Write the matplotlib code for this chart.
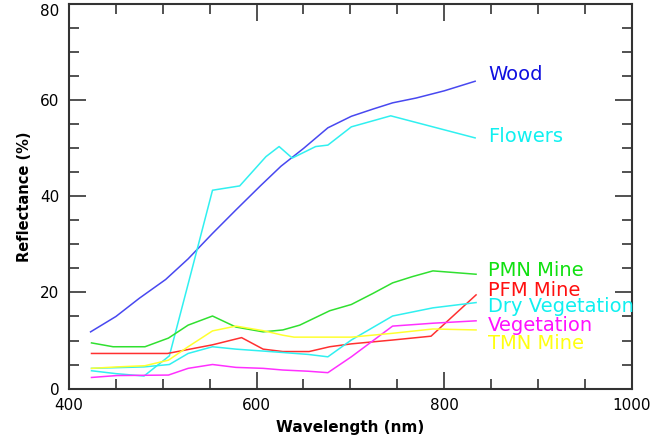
import matplotlib
matplotlib.use("Agg")
import matplotlib.pyplot as plt
from matplotlib.ticker import MultipleLocator

# ---- data ----
wood_x = [423, 450, 475, 503, 527, 553, 578, 604, 626, 650, 676, 701, 724, 745, 770, 800, 833]
wood_y = [11.8, 15.0, 18.8, 22.7, 27.0, 32.3, 37.2, 42.2, 46.3, 50.0, 54.3, 56.7, 58.2, 59.5, 60.5, 62.0, 64.0]

flowers_x = [424, 450, 480, 507, 530, 553, 582, 610, 624, 638, 663, 676, 701, 743, 833]
flowers_y = [3.7, 3.1, 2.6, 6.8, 24.0, 41.3, 42.2, 48.3, 50.4, 48.0, 50.4, 50.7, 54.5, 56.8, 52.2]

pmn_x = [424, 447, 481, 506, 527, 553, 578, 607, 628, 646, 678, 701, 724, 745, 766, 788, 834]
pmn_y = [9.5, 8.7, 8.7, 10.5, 13.2, 15.1, 12.8, 11.8, 12.2, 13.2, 16.2, 17.5, 19.8, 22.0, 23.3, 24.5, 23.8]

pfm_x = [424, 505, 553, 584, 607, 628, 656, 678, 701, 745, 786, 834]
pfm_y = [7.3, 7.3, 9.1, 10.6, 8.2, 7.7, 7.7, 8.7, 9.3, 10.1, 10.9, 19.5]

dry_x = [424, 480, 507, 527, 553, 578, 607, 628, 655, 676, 701, 745, 788, 834]
dry_y = [4.2, 4.5, 5.0, 7.3, 8.7, 8.2, 7.8, 7.5, 7.1, 6.6, 10.1, 15.1, 16.8, 17.9]

veg_x = [424, 451, 506, 527, 553, 578, 607, 628, 655, 676, 701, 745, 788, 834]
veg_y = [2.3, 2.7, 2.8, 4.2, 5.0, 4.4, 4.2, 3.85, 3.6, 3.3, 6.6, 13.0, 13.6, 14.1]

tmn_x = [424, 451, 481, 506, 527, 553, 578, 607, 628, 640, 676, 701, 745, 788, 834]
tmn_y = [4.2, 4.5, 4.75, 5.9, 8.7, 12.0, 13.0, 12.05, 11.1, 10.7, 10.7, 10.7, 11.5, 12.4, 12.2]

series_names = ["Wood", "Flowers", "PMN Mine", "PFM Mine", "Dry Vegetation", "Vegetation", "TMN Mine"]
label_y = [65.5, 52.4, 24.5, 20.5, 17.0, 13.2, 9.3]

x_label = "Wavelength (nm)"
y_label = "Reflectance (%)"

# ---- styles ----
line_colors = ["#4848f0", "#30f0f0", "#30e030", "#ff3030", "#30f0f0", "#ff30ff", "#ffff30"]
text_colors = ["#1010e0", "#10f0f0", "#10e010", "#ff1010", "#10f0f0", "#ff10ff", "#ffff10"]

fig = plt.figure(figsize=(6.54, 4.43), dpi=100)
ax = fig.add_axes([0.1055, 0.123, 0.8605, 0.867])

xs = [wood_x, flowers_x, pmn_x, pfm_x, dry_x, veg_x, tmn_x]
ys = [wood_y, flowers_y, pmn_y, pfm_y, dry_y, veg_y, tmn_y]
for x, y, c in zip(xs, ys, line_colors):
    ax.plot(x, y, color=c, lw=1.1)

for name, ly, c in zip(series_names, label_y, text_colors):
    ax.text(847, ly, name, color=c, fontsize=14, va="center", ha="left")

ax.set_xlim(400, 1000)
ax.set_ylim(0, 80)
ax.xaxis.set_major_locator(MultipleLocator(200))
ax.xaxis.set_minor_locator(MultipleLocator(50))
ax.yaxis.set_major_locator(MultipleLocator(20))
ax.yaxis.set_minor_locator(MultipleLocator(5))
ax.tick_params(which="both", direction="in", top=True, right=True, color="#333333", width=1.2)
ax.tick_params(which="major", length=12, labelsize=11, pad=7)
ax.tick_params(which="minor", length=7)
for s in ax.spines.values():
    s.set_linewidth(1.5)
    s.set_color("#333333")

ax.set_xlabel(x_label, fontsize=11, fontweight="bold", labelpad=5)
ax.set_ylabel(y_label, fontsize=10.5, fontweight="bold", labelpad=6)

fig.canvas.draw()
for lbl in ax.get_yticklabels():
    if lbl.get_text() == "80":
        lbl.set_va("top")

fig.savefig("out.png", dpi=100)
